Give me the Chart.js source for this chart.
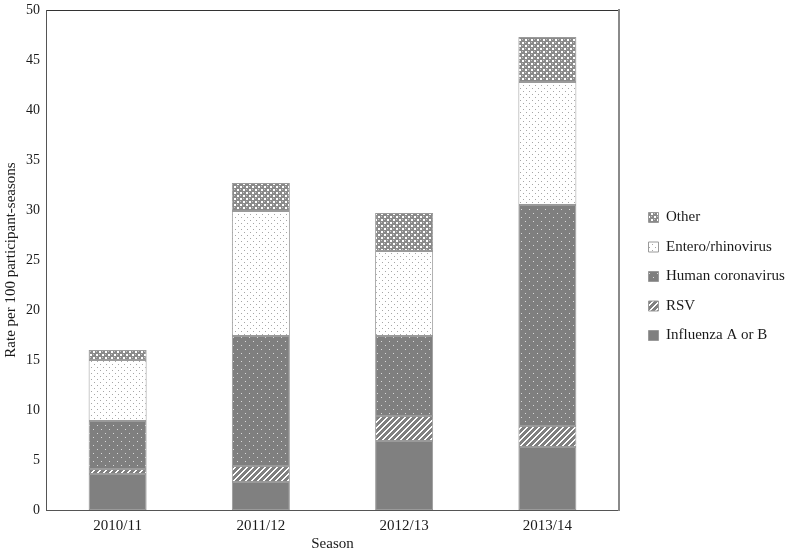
<!DOCTYPE html>
<html>
<head>
<meta charset="utf-8">
<script src="https://cdn.jsdelivr.net/npm/chart.js@4/dist/chart.umd.min.js"></script>
<style>
  html, body { margin: 0; padding: 0; background: #ffffff; }
  #wrap { width: 787px; height: 553px; position: relative; }
</style>
</head>
<body>
<div id="wrap"><canvas id="c" width="787" height="553"></canvas></div>
<script>
const categories = ['2010/11', '2011/12', '2012/13', '2013/14'];
const seriesNames = ['Influenza A or B', 'RSV', 'Human coronavirus', 'Entero/rhinovirus', 'Other'];
const influenza = [3.6, 2.8, 6.9, 6.3];
const rsv = [0.5, 1.6, 2.5, 2.1];
const coronavirus = [4.8, 13.0, 8.0, 22.1];
const entero = [6.1, 12.5, 8.5, 12.3];
const other = [1.0, 2.8, 3.8, 4.5];
const yTicks = [0, 5, 10, 15, 20, 25, 30, 35, 40, 45, 50];

function makeTile(size, bg, pixels) {
  const cv = document.createElement('canvas');
  cv.width = size; cv.height = size;
  const g = cv.getContext('2d');
  g.fillStyle = bg; g.fillRect(0, 0, size, size);
  pixels.forEach(p => { g.fillStyle = p[2]; g.fillRect(p[0], p[1], p[3] || 1, p[4] || 1); });
  return g.createPattern(cv, 'repeat');
}

const solidGray = '#808080';
// RSV: white diagonal stripes on gray
const rsvPix = [];
for (let i = 0; i < 6; i++) { rsvPix.push([i, 5 - i, '#ffffff']); rsvPix.push([i, (6 - i) % 6, '#ffffff']); }
const rsvPattern = makeTile(6, '#808080', rsvPix);
// Coronavirus: light dots on gray
const coronaPattern = makeTile(8, '#7f7f7f', [[1, 1, '#d8d8d8'], [5, 5, '#d8d8d8']]);
// Entero: gray dots on white
const enteroPattern = makeTile(6, '#ffffff', [[1, 1, '#a6a6a6'], [4, 4, '#a6a6a6']]);
// Other: crosshatch mesh
const otherPattern = makeTile(6, '#8a8a8a', [
  [0, 0, '#ffffff', 2, 2], [3, 3, '#ffffff', 2, 2],
  [3, 0, '#c4c4c4'], [0, 3, '#c4c4c4']
]);

const fills = [solidGray, rsvPattern, coronaPattern, enteroPattern, otherPattern];
const values = [influenza, rsv, coronavirus, entero, other];

Chart.defaults.font.family = "'Liberation Serif', 'Times New Roman', serif";
Chart.defaults.color = '#1a1a1a';

new Chart(document.getElementById('c'), {
  type: 'bar',
  data: {
    labels: categories,
    datasets: seriesNames.map((name, i) => ({
      label: name,
      data: values[i],
      backgroundColor: fills[i],
      borderColor: '#9a9a9a',
      borderWidth: 1,
      borderSkipped: false,
      categoryPercentage: 1.0,
      barPercentage: 0.405
    }))
  },
  options: {
    responsive: false,
    animation: false,
    devicePixelRatio: 1,
    layout: { padding: { top: 0, left: 0, right: 0, bottom: 0 } },
    plugins: {
      tooltip: { enabled: false },
      legend: {
        position: 'right',
        reverse: true,
        maxWidth: 153,
        labels: {
          boxWidth: 10,
          boxHeight: 10,
          padding: 14.5,
          font: { size: 15 },
          color: '#1a1a1a'
        }
      }
    },
    scales: {
      x: {
        stacked: true,
        grid: { display: false, drawTicks: false },
        border: { display: true, color: '#555555', width: 1 },
        afterFit: s => { s.height = 43; },
        ticks: { padding: 7, font: { size: 15 }, color: '#1a1a1a' },
        title: { display: true, text: 'Season', font: { size: 15 }, color: '#1a1a1a', padding: { top: 1, bottom: 0 } }
      },
      x2: {
        position: 'top',
        grid: { display: false, drawTicks: false },
        ticks: { display: false },
        border: { display: true, color: '#333333', width: 1 },
        afterFit: s => { s.height = 10; }
      },
      y: {
        stacked: true,
        min: 0,
        max: 50,
        grid: { display: false, drawTicks: false },
        border: { display: true, color: '#555555', width: 1 },
        afterBuildTicks: s => { s.ticks = yTicks.map(v => ({ value: v })); },
        afterFit: s => { s.width = 46; s.paddingTop = 0; s.paddingBottom = 0; },
        ticks: { padding: 6, font: { size: 14 }, color: '#1a1a1a' },
        title: { display: true, text: 'Rate per 100 participant-seasons', font: { size: 15 }, color: '#1a1a1a', padding: { top: 2, bottom: 6 } }
      },
      y2: {
        position: 'right',
        grid: { display: false, drawTicks: false },
        ticks: { display: false },
        border: { display: true, color: '#8a8a8a', width: 2 },
        afterFit: s => { s.width = 15; s.paddingTop = 0; s.paddingBottom = 0; }
      }
    }
  }
});
</script>
</body>
</html>
